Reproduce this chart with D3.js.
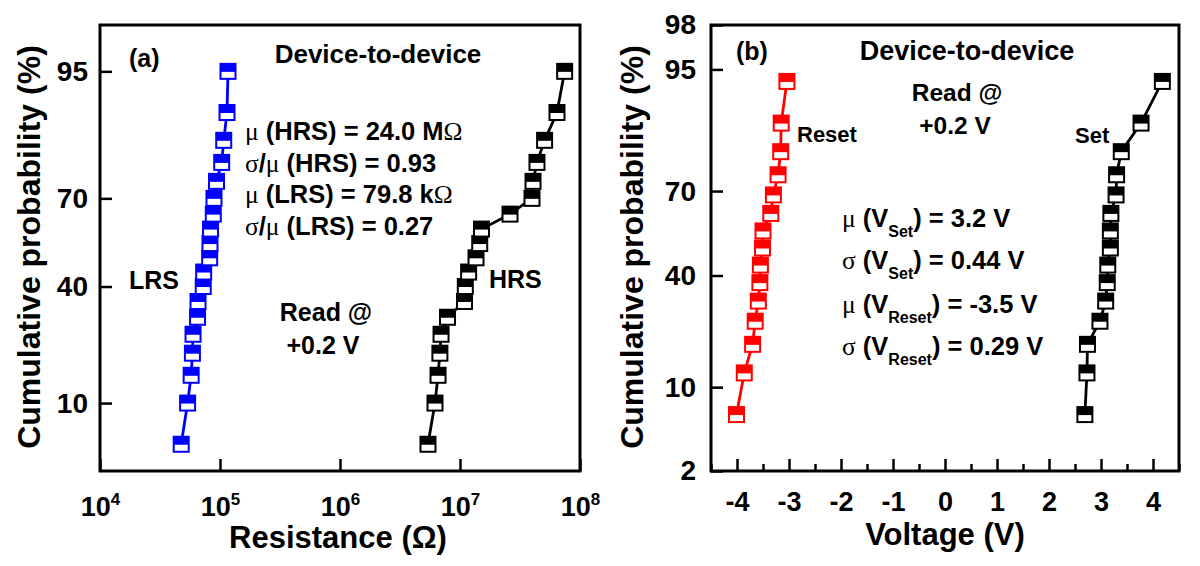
<!DOCTYPE html>
<html>
<head>
<meta charset="utf-8">
<script src="https://cdn.jsdelivr.net/npm/d3@7"></script>
<style>
  html, body { margin: 0; padding: 0; background: #fff; }
  svg { display: block; }
</style>
</head>
<body>
<svg id="chart" width="1200" height="566"></svg>
<script>
// ---------------- DATA ----------------
// Panel (a): cumulative probability (%) vs resistance (ohm)
const probA = [5, 10, 15, 20, 25, 30, 35, 40, 45, 50, 55, 60, 65, 70, 75, 80, 85, 90, 95];
const lrsOhm = [47.5e3, 53.7e3, 57.5e3, 58.9e3, 59.6e3, 65.0e3, 65.6e3, 72.5e3, 73.1e3, 82.0e3,
                82.5e3, 83.4e3, 87.9e3, 89.1e3, 93.5e3, 103.3e3, 107.4e3, 114.4e3, 116.6e3];
const hrsOhm = [5.41e6, 6.19e6, 6.56e6, 6.80e6, 6.95e6, 7.87e6, 10.9e6, 11.07e6, 11.8e6, 13.6e6,
                14.6e6, 15.1e6, 26.1e6, 39.8e6, 40.6e6, 43.8e6, 50.7e6, 64.3e6, 74.5e6];
const xTicksA = [1e4, 1e5, 1e6, 1e7, 1e8];
const yTicksA = [10, 40, 70, 95];

// Panel (b): cumulative probability (%) vs voltage (V)
const probB = [6.25, 12.5, 18.75, 25, 31.25, 37.5, 43.75, 50, 56.25, 62.5, 68.75, 75, 81.25, 87.5, 93.75];
const resetV = [-4.01, -3.86, -3.70, -3.65, -3.59, -3.56, -3.55, -3.51, -3.50, -3.35, -3.30, -3.21, -3.16, -3.15, -3.04];
const setV = [2.69, 2.73, 2.74, 2.98, 3.09, 3.12, 3.13, 3.18, 3.18, 3.19, 3.29, 3.30, 3.39, 3.77, 4.18];
const xTicksB = [-4, -3, -2, -1, 0, 1, 2, 3, 4];
const xMinorB = [-4.5, -3.5, -2.5, -1.5, -0.5, 0.5, 1.5, 2.5, 3.5, 4.5];
const yTicksB = [2, 10, 40, 70, 95, 98];

// ---------------- HELPERS ----------------
function probit(p) {
  const a = [-3.969683028665376e+01, 2.209460984245205e+02, -2.759285104469687e+02, 1.383577518672690e+02, -3.066479806614716e+01, 2.506628277459239e+00];
  const b = [-5.447609879822406e+01, 1.615858368580409e+02, -1.556989798598866e+02, 6.680131188771972e+01, -1.328068155288572e+01];
  const c = [-7.784894002430293e-03, -3.223964580411365e-01, -2.400758277161838e+00, -2.549732539343734e+00, 4.374664141464968e+00, 2.938163982698783e+00];
  const d = [7.784695709041462e-03, 3.224671290700398e-01, 2.445134137142996e+00, 3.754408661907416e+00];
  const pl = 0.02425, ph = 1 - pl;
  let q, r;
  if (p < pl) {
    q = Math.sqrt(-2 * Math.log(p));
    return (((((c[0]*q+c[1])*q+c[2])*q+c[3])*q+c[4])*q+c[5]) / ((((d[0]*q+d[1])*q+d[2])*q+d[3])*q+1);
  }
  if (p <= ph) {
    q = p - 0.5; r = q * q;
    return (((((a[0]*r+a[1])*r+a[2])*r+a[3])*r+a[4])*r+a[5])*q / (((((b[0]*r+b[1])*r+b[2])*r+b[3])*r+b[4])*r+1);
  }
  q = Math.sqrt(-2 * Math.log(1 - p));
  return -(((((c[0]*q+c[1])*q+c[2])*q+c[3])*q+c[4])*q+c[5]) / ((((d[0]*q+d[1])*q+d[2])*q+d[3])*q+1);
}

const SANS = "'Liberation Sans', Arial, sans-serif";
const SERIF = "'Liberation Serif', 'Times New Roman', serif";
const svg = d3.select('#chart');
svg.append('rect').attr('width', 1200).attr('height', 566).attr('fill', '#fff');

const A = { x0: 100, x1: 580, y0: 25, y1: 471 };
const B = { x0: 711, x1: 1179, y0: 25, y1: 471 };

const xA = d3.scaleLog().domain([1e4, 1e8]).range([A.x0, A.x1]);
const zA = d3.scaleLinear().domain([probit(0.03), probit(0.98)]).range([A.y1, A.y0]);
const yA = p => zA(probit(p / 100));

const xB = d3.scaleLinear().domain([-4.5, 4.5]).range([B.x0, B.x1]);
const zB = d3.scaleLinear().domain([probit(0.02), probit(0.98)]).range([B.y1, B.y0]);
const yB = p => zB(probit(p / 100));

function styleAxis(g, size) {
  g.select('.domain').remove();
  g.attr('font-family', SANS).attr('font-size', size).attr('font-weight', 'bold');
  g.selectAll('.tick line').attr('stroke', '#000').attr('stroke-width', 2.5);
  g.selectAll('.tick text').attr('fill', '#000');
}

// ---------------- PANEL (a) axes ----------------
const gyA = svg.append('g').attr('transform', `translate(${A.x0},0)`)
  .call(d3.axisLeft(zA).tickValues(yTicksA.map(p => probit(p / 100)))
    .tickFormat((d, i) => yTicksA[i]).tickSize(-12).tickPadding(12));
styleAxis(gyA, 28);

const gxA = svg.append('g').attr('transform', `translate(0,${A.y1})`)
  .call(d3.axisBottom(xA).tickValues(xTicksA).tickFormat(() => '').tickSize(-12).tickPadding(26));
styleAxis(gxA, 27);
gxA.selectAll('.tick text').each(function (d) {
  const t = d3.select(this);
  t.append('tspan').text('10');
  t.append('tspan').attr('font-size', 17).attr('dy', -11).text(Math.round(Math.log10(d)));
});

// ---------------- PANEL (b) axes ----------------
const gyB = svg.append('g').attr('transform', `translate(${B.x0},0)`)
  .call(d3.axisLeft(zB).tickValues(yTicksB.map(p => probit(p / 100)))
    .tickFormat((d, i) => yTicksB[i]).tickSize(-12).tickPadding(15));
styleAxis(gyB, 28);

const gxB = svg.append('g').attr('transform', `translate(0,${B.y1})`)
  .call(d3.axisBottom(xB).tickValues(xTicksB).tickFormat(d3.format('d')).tickSize(-12).tickPadding(21));
styleAxis(gxB, 27);
gxB.selectAll('.tick text').text(d => (d < 0 ? '-' + Math.abs(d) : d));

const gxBm = svg.append('g').attr('transform', `translate(0,${B.y1})`)
  .call(d3.axisBottom(xB).tickValues(xMinorB).tickFormat(() => '').tickSize(-7));
styleAxis(gxBm, 27);

// ---------------- Frames ----------------
[A, B].forEach(P => {
  svg.append('rect').attr('x', P.x0).attr('y', P.y0)
    .attr('width', P.x1 - P.x0).attr('height', P.y1 - P.y0)
    .attr('fill', 'none').attr('stroke', '#000').attr('stroke-width', 3);
});

// ---------------- Series ----------------
function drawSeries(xs, ps, xScale, yFn, color) {
  const data = xs.map((v, i) => ({ v, p: ps[i] }));
  const line = d3.line().x(d => xScale(d.v)).y(d => yFn(d.p));
  svg.append('path').datum(data).attr('d', line)
    .attr('fill', 'none').attr('stroke', color).attr('stroke-width', 2.8);
  const g = svg.append('g').selectAll('g').data(data).join('g')
    .attr('transform', d => `translate(${xScale(d.v)},${yFn(d.p)})`);
  const s = 15;
  g.append('rect').attr('x', -s / 2).attr('y', -s / 2).attr('width', s).attr('height', s)
    .attr('fill', '#fff').attr('stroke', color).attr('stroke-width', 2);
  g.append('rect').attr('x', -s / 2).attr('y', -s / 2).attr('width', s).attr('height', s / 2 + 0.5)
    .attr('fill', color);
}
drawSeries(lrsOhm, probA, xA, yA, '#0000ff');
drawSeries(hrsOhm, probA, xA, yA, '#000000');
drawSeries(resetV, probB, xB, yB, '#ff0000');
drawSeries(setV, probB, xB, yB, '#000000');

// ---------------- Text ----------------
function txt(x, y, str, size, anchor = 'start', weight = 'bold') {
  return svg.append('text').attr('x', x).attr('y', y).attr('font-family', SANS)
    .attr('font-size', size).attr('font-weight', weight).attr('text-anchor', anchor)
    .attr('fill', '#000').text(str);
}

// axis titles
txt(338, 548, 'Resistance (Ω)', 31, 'middle');
txt(945, 545, 'Voltage (V)', 31, 'middle');
svg.append('text').attr('transform', 'translate(40,247) rotate(-90)')
  .attr('font-family', SANS).attr('font-size', 32).attr('font-weight', 'bold')
  .attr('text-anchor', 'middle').text('Cumulative probability (%)');
svg.append('text').attr('transform', 'translate(643,247) rotate(-90)')
  .attr('font-family', SANS).attr('font-size', 32).attr('font-weight', 'bold')
  .attr('text-anchor', 'middle').text('Cumulative probability (%)');

// panel (a) annotations
txt(129, 67, '(a)', 25);
txt(378, 63, 'Device-to-device', 26, 'middle');
txt(129, 289, 'LRS', 25);
txt(489, 288, 'HRS', 25);
txt(326, 321, 'Read @', 25, 'middle');
txt(323, 354, '+0.2 V', 25, 'middle');

function statLine(x, y, parts, size) {
  const t = svg.append('text').attr('x', x).attr('y', y).attr('font-size', size).attr('fill', '#000');
  parts.forEach(p => {
    const s = t.append('tspan').text(p.t)
      .attr('font-family', p.serif ? SERIF : SANS)
      .attr('font-weight', p.serif ? 'normal' : 'bold');
    if (p.size) s.attr('font-size', p.size);
    if (p.dy) s.attr('dy', p.dy);
  });
}
const statsA = [
  [{ t: 'μ', serif: true }, { t: ' (HRS) = 24.0 M' }, { t: 'Ω', serif: true }],
  [{ t: 'σ', serif: true }, { t: '/' }, { t: 'μ', serif: true }, { t: ' (HRS) = 0.93' }],
  [{ t: 'μ', serif: true }, { t: ' (LRS) = 79.8 k' }, { t: 'Ω', serif: true }],
  [{ t: 'σ', serif: true }, { t: '/' }, { t: 'μ', serif: true }, { t: ' (LRS) = 0.27' }]
];
statsA.forEach((parts, i) => statLine(245, 140 + i * 31.7, parts, 25.5));

// panel (b) annotations
txt(736, 60, '(b)', 25);
txt(967, 60, 'Device-to-device', 27, 'middle');
txt(957, 101, 'Read @', 24.5, 'middle');
txt(955, 134, '+0.2 V', 24.5, 'middle');
txt(797, 142, 'Reset', 22);
txt(1075, 143, 'Set', 22);

const statsB = [
  [{ t: 'μ', serif: true }, { t: ' (V' }, { t: 'Set', size: 16, dy: 10 }, { t: ') = 3.2 V', dy: -10 }],
  [{ t: 'σ', serif: true }, { t: ' (V' }, { t: 'Set', size: 16, dy: 10 }, { t: ') = 0.44 V', dy: -10 }],
  [{ t: 'μ', serif: true }, { t: ' (V' }, { t: 'Reset', size: 16, dy: 10 }, { t: ') = -3.5 V', dy: -10 }],
  [{ t: 'σ', serif: true }, { t: ' (V' }, { t: 'Reset', size: 16, dy: 10 }, { t: ') = 0.29 V', dy: -10 }]
];
const statsBy = [227, 269, 313, 355];
statsB.forEach((parts, i) => statLine(842, statsBy[i], parts, 25.5));
</script>
</body>
</html>
